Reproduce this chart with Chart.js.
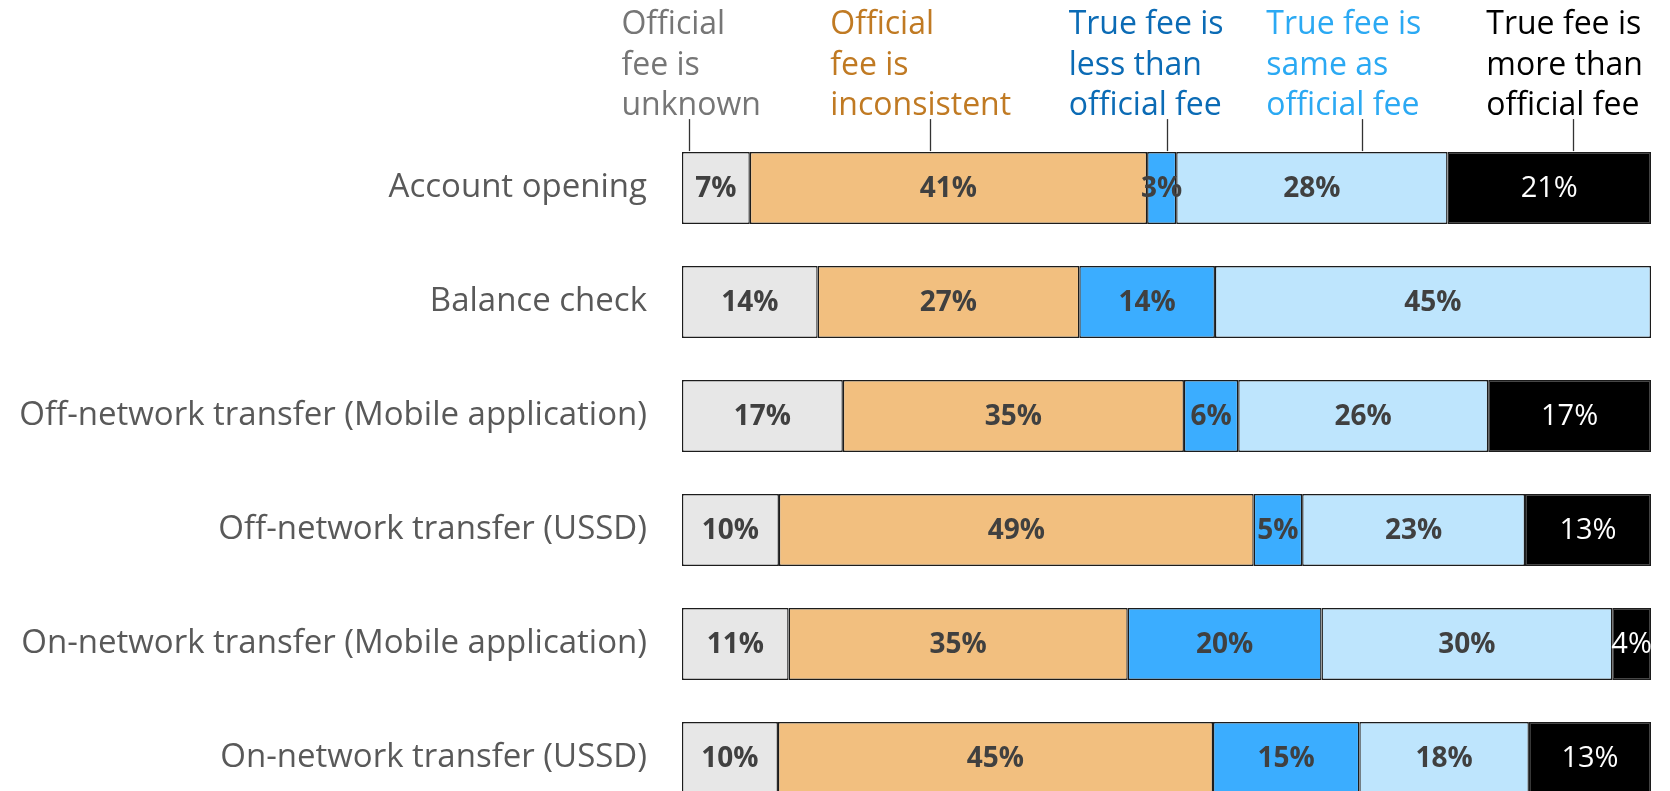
<!DOCTYPE html>
<html>
<head>
<meta charset="utf-8">
<script src="https://cdn.jsdelivr.net/npm/chart.js@4/dist/chart.umd.min.js"></script>
<style>
	html, body { margin: 0; padding: 0; background: #ffffff; overflow: hidden; }
	#wrap { position: absolute; left: 0; top: 0; width: 1670px; height: 870px; }
</style>
</head>
<body>
<div id="wrap"><canvas id="feeChart" width="1670" height="870"></canvas></div>
<script>
// categories (rows)
var categories = [
	'Account opening',
	'Balance check',
	'Off-network transfer (Mobile application)',
	'Off-network transfer (USSD)',
	'On-network transfer (Mobile application)',
	'On-network transfer (USSD)'
];

// series names, shown as the header text above the bars
var seriesNames = [
	['Official', 'fee is', 'unknown'],
	['Official', 'fee is', 'inconsistent'],
	['True fee is', 'less than', 'official fee'],
	['True fee is', 'same as', 'official fee'],
	['True fee is', 'more than', 'official fee']
];

// share of each row, in percent
var feeUnknown      = [7, 14, 16.6, 10, 11, 9.9];
var feeInconsistent = [41, 27, 35.2, 49, 35, 44.9];
var lessThanFee     = [3, 14, 5.6, 5, 20, 15.1];
var sameAsFee       = [28, 45, 25.8, 23, 30, 17.5];
var moreThanFee     = [21, null, 16.8, 13, 4, 12.6];

var barColors  = ['#E7E7E7', '#F2BF7F', '#3BADFF', '#BEE5FD', '#000000'];
var textColors = ['#767676', '#C07A23', '#0B6BB5', '#2BA9F3', '#000000'];

var FONT = "'Open Sans', 'Noto Sans', sans-serif";

var feeChart = {
	// header text with leader lines, placed in % of the x axis
	headerLeft: [-6.25, 15.3, 39.9, 60.3, 83.0],
	leaderAt:   [0.77, 25.6, 50.0, 70.2, 91.9],

	headerPlugin: {
		id: 'headerText',
		afterDraw: function(chart) {
			var ctx = chart.ctx;
			var x = chart.scales.x;
			var bar = chart.getDatasetMeta(0).data[0];
			var barTop = bar.y - bar.height / 2;

			ctx.save();
			ctx.font = '32px ' + FONT;
			ctx.textAlign = 'left';
			ctx.textBaseline = 'alphabetic';
			for (var i = 0; i < seriesNames.length; i++) {
				var left = x.getPixelForValue(feeChart.headerLeft[i]);
				ctx.fillStyle = textColors[i];
				for (var l = 0; l < seriesNames[i].length; l++) {
					ctx.fillText(seriesNames[i][l], left, barTop - 118 + l * 40.5);
				}
				// leader line
				var lx = Math.round(x.getPixelForValue(feeChart.leaderAt[i])) + 0.5;
				ctx.strokeStyle = '#333333';
				ctx.lineWidth = 1.3;
				ctx.beginPath();
				ctx.moveTo(lx, barTop - 33);
				ctx.lineTo(lx, barTop - 1);
				ctx.stroke();
			}
			ctx.restore();
		}
	},

	labelPlugin: {
		id: 'barLabels',
		afterDatasetsDraw: function(chart) {
			var ctx = chart.ctx;
			ctx.save();
			ctx.textAlign = 'center';
			ctx.textBaseline = 'middle';
			chart.data.datasets.forEach(function(ds, d) {
				var meta = chart.getDatasetMeta(d);
				meta.data.forEach(function(el, i) {
					var v = ds.data[i];
					if (v === null || v === undefined) return;
					var p = el.getProps(['x', 'y', 'base'], true);
					var cx = (p.x + p.base) / 2;
					if (d === 4) {
						ctx.font = '29px ' + FONT;
						ctx.fillStyle = '#ffffff';
					} else {
						ctx.font = 'bold 28px ' + FONT;
						ctx.fillStyle = '#404040';
					}
					ctx.fillText(Math.round(v) + '%', cx, p.y + 1);
				});
			});
			ctx.restore();
		}
	},

	create: function() {
		var series = [feeUnknown, feeInconsistent, lessThanFee, sameAsFee, moreThanFee];
		var datasets = series.map(function(vals, i) {
			return {
				label: seriesNames[i].join(' '),
				data: vals,
				backgroundColor: barColors[i],
				borderColor: '#1c1c1c',
				borderWidth: 1.4,
				borderSkipped: false,
				barPercentage: 0.63,
				categoryPercentage: 1.0
			};
		});

		return new Chart(document.getElementById('feeChart').getContext('2d'), {
			type: 'bar',
			data: { labels: categories, datasets: datasets },
			plugins: [feeChart.labelPlugin, feeChart.headerPlugin],
			options: {
				indexAxis: 'y',
				responsive: false,
				animation: false,
				// bottom padding has to beat the y axis' own label padding
				layout: { padding: { top: 131, right: 19, bottom: 55, left: 0 } },
				plugins: {
					legend: { display: false },
					tooltip: { enabled: false }
				},
				scales: {
					x: {
						stacked: true,
						display: false,
						min: 0,
						max: 100
					},
					y: {
						stacked: true,
						grid: { display: false, drawTicks: false },
						border: { display: false },
						ticks: {
							padding: 35,
							color: '#595959',
							font: { family: FONT, size: 33 }
						},
						afterFit: function(scale) {
							scale.width = 682;
						}
					}
				}
			}
		});
	}
};

feeChart.create();
</script>
</body>
</html>
